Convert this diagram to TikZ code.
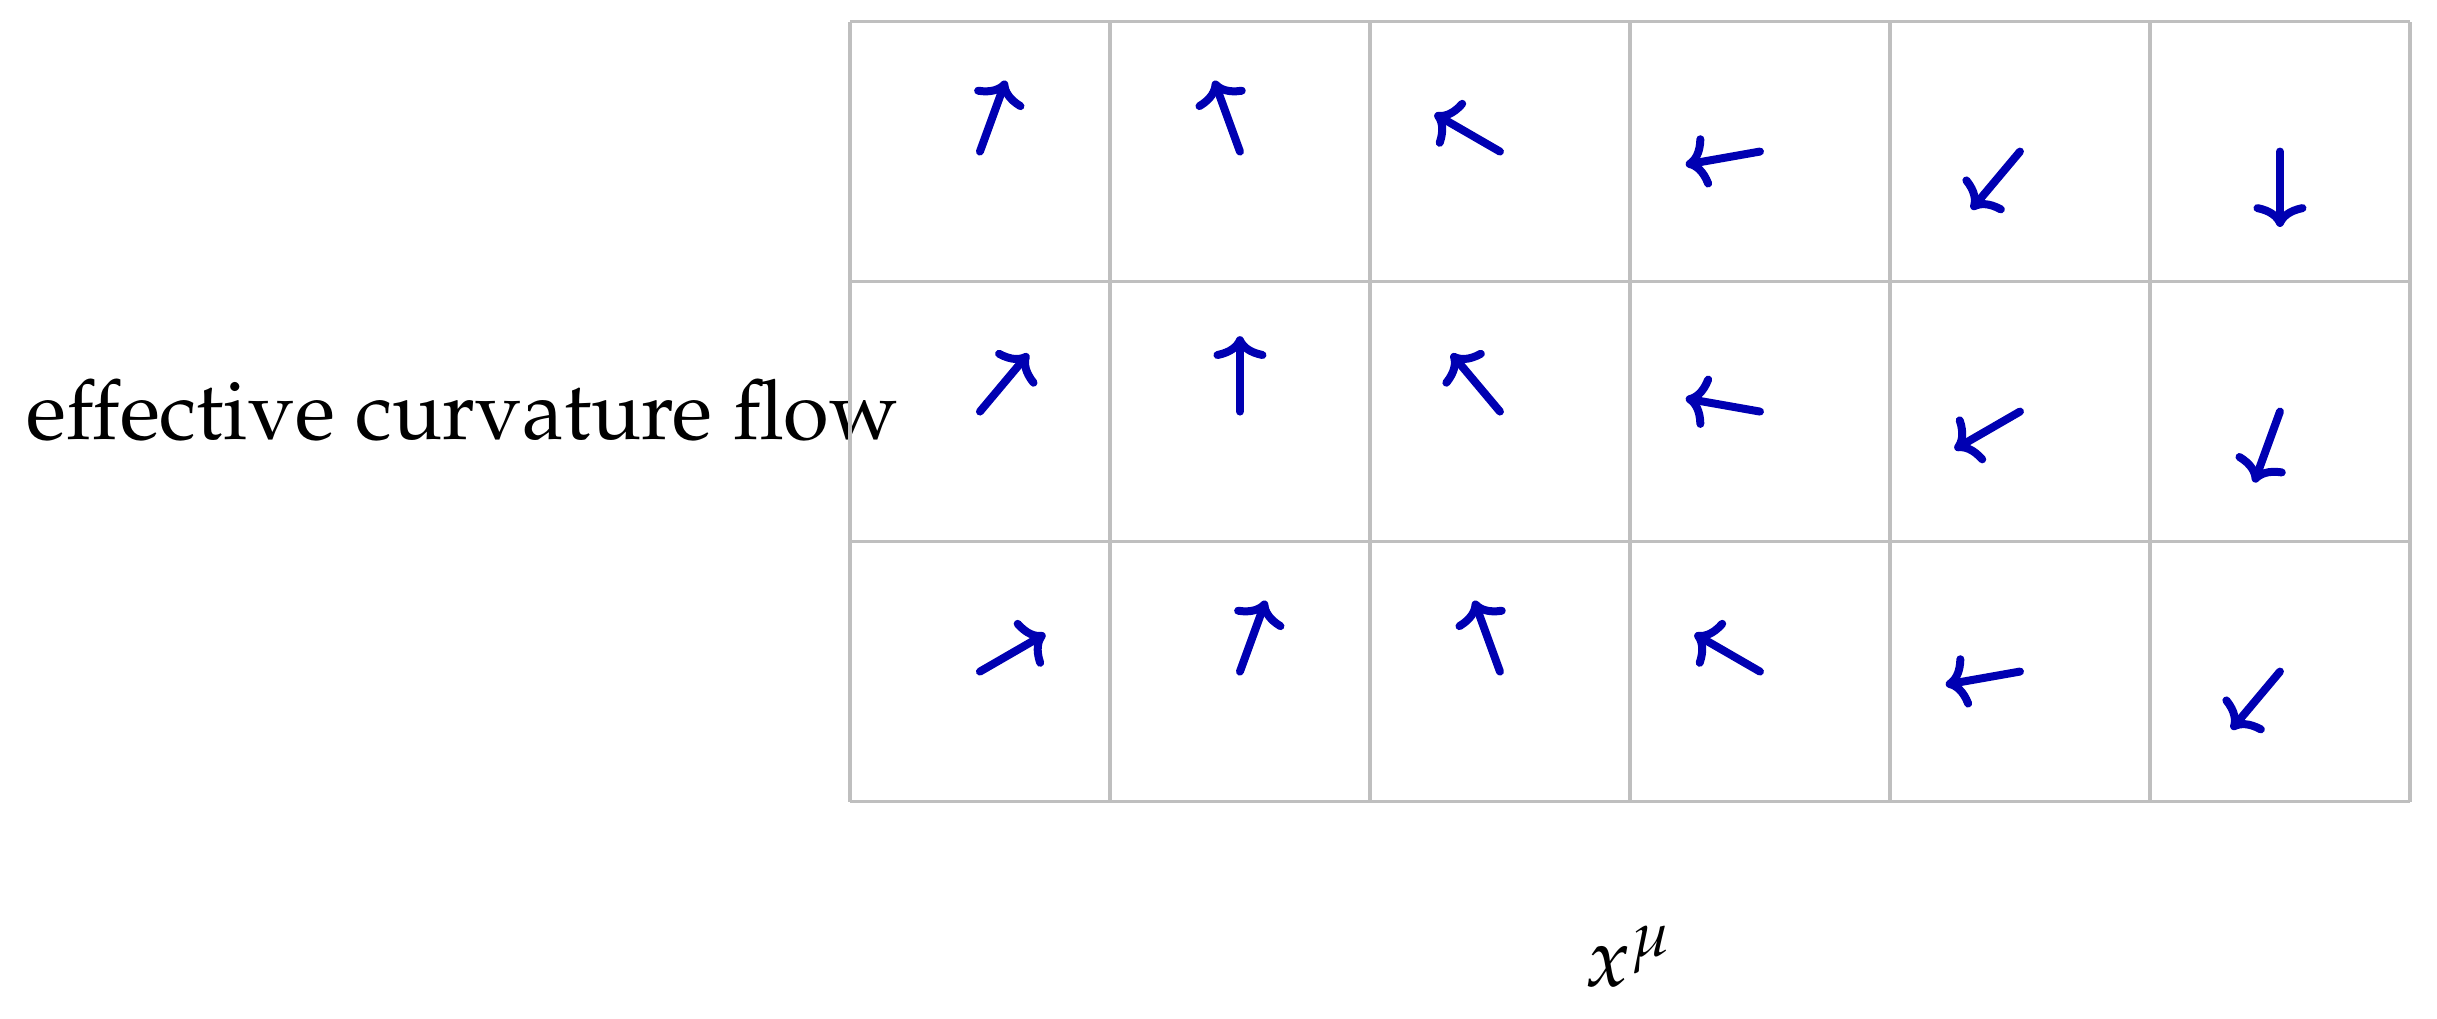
\documentclass[tikz,border=0pt]{standalone}
\usepackage[T1]{fontenc}
\usepackage{amsmath}
\usepackage{mathpazo}
\usepackage{tikz}
\usetikzlibrary{arrows.meta}

\begin{document}
\begin{tikzpicture}[x=1cm, y=1cm, every node/.style={font=\fontsize{9.1}{11}\selectfont},
  flowarrow/.style={-{Computer Modern Rightarrow[length=2.5pt, width=5.8pt]}, line width=0.875pt, line cap=round, blue!70!black}]

\useasboundingbox (-3.269, -0.835) rectangle (6.104, 3.083) ; % frame
\node[anchor=base] (flow) at (-1.49, 1.392) {effective curvature flow} ; % label
\draw[gray!50] (0, 0) grid (6, 3) ; % cells
\foreach \i in {0,...,5} {
  \foreach \j in {0,1,2} {
    \coordinate (c\i\j) at (\i+0.5, \j+0.5) ; % cell centre
    \draw[flowarrow] (c\i\j) -- ++({30+40*\i+20*\j}:0.29) ; % flow
  }
}
\node[anchor=base] (xmu) at (3, -0.712) {$x^{\mu}$} ; % axis

\end{tikzpicture}
\end{document}
